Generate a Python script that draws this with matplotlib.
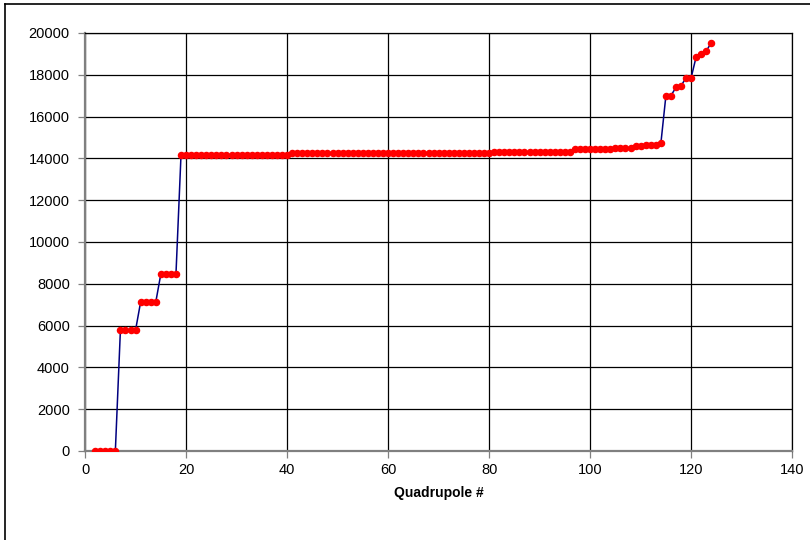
import matplotlib
matplotlib.use('Agg')
import matplotlib.pyplot as plt
from matplotlib.lines import Line2D

plt.rcParams['font.family'] = ['Liberation Sans', 'DejaVu Sans']

# quadrupole index and value
quad = list(range(2, 125))
value = [
    0, 0, 0, 0, 0,
    5780, 5780, 5780, 5780,
    7120, 7120, 7120, 7120,
    8460, 8460, 8460, 8460,
    14170, 14170, 14170, 14170, 14170, 14170, 14170, 14170, 14170, 14170, 14170,
    14170, 14170, 14170, 14170, 14170, 14170, 14170, 14170, 14170, 14170, 14170,
    14240, 14240, 14240, 14240, 14240, 14240, 14240, 14240, 14240, 14240,
    14240, 14240, 14240, 14240, 14240, 14240, 14240, 14240, 14240, 14240,
    14240, 14240, 14240, 14240, 14240, 14240, 14240, 14240, 14240, 14240,
    14240, 14240, 14240, 14240, 14240, 14240, 14240, 14240, 14240, 14240,
    14300, 14300, 14300, 14300, 14300, 14300, 14300, 14300,
    14300, 14300, 14300, 14300, 14300, 14300, 14300, 14300,
    14440, 14440, 14440, 14440, 14440, 14440, 14440, 14440,
    14510, 14510, 14510, 14510,
    14580, 14580,
    14640, 14640, 14640,
    14710,
    17000, 17000, 17400, 17470, 17860, 17860,
    18870, 18990, 19140, 19540,
]
xticks = [0, 20, 40, 60, 80, 100, 120, 140]
yticks = [0, 2000, 4000, 6000, 8000, 10000, 12000, 14000, 16000, 18000, 20000]

fig = plt.figure(figsize=(8.1, 5.4), dpi=100)
ax = fig.add_axes([0.105, 0.165, 0.873, 0.774])

ax.plot(quad, value, color='#000080', lw=1.1, marker='o', ms=4.4,
        mfc='#ff0000', mec='#ff0000', zorder=3)

ax.set_xlim(0, 140)
ax.set_ylim(0, 20000)
ax.set_xticks(xticks)
ax.set_yticks(yticks)
ax.grid(True, color='black', lw=0.9)
ax.set_axisbelow(True)
ax.tick_params(labelsize=10.5, length=5, width=0.9, color='#808080')
ax.tick_params(axis='x', pad=4)
ax.tick_params(axis='y', pad=6)

for side in ['left', 'bottom']:
    ax.spines[side].set_color('#808080')
    ax.spines[side].set_linewidth(1.6)
for side in ['top', 'right']:
    ax.spines[side].set_color('black')
    ax.spines[side].set_linewidth(0.9)

ax.set_xlabel('Quadrupole #', fontsize=10, fontweight='bold', labelpad=6)

# outer chart frame (left and top edges only visible)
fig.add_artist(Line2D([0.006, 0.006], [0, 0.993], color='black', lw=1.2))
fig.add_artist(Line2D([0.006, 1], [0.993, 0.993], color='black', lw=1.2))

fig.savefig('out.png', dpi=100)
